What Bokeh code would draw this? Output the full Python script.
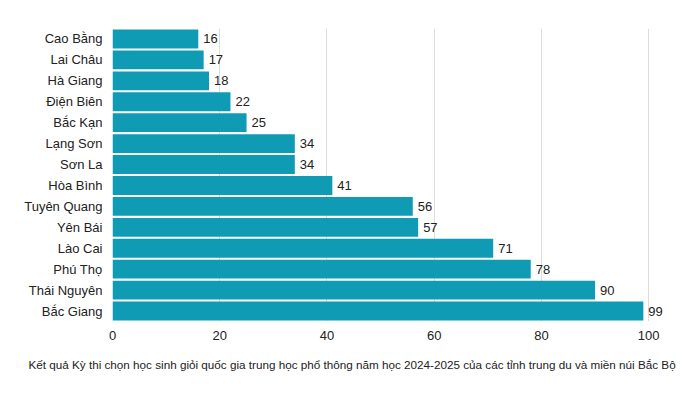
from bokeh.plotting import figure
from bokeh.models import ColumnDataSource, LabelSet, Title, Range1d, FactorRange, FixedTicker
from bokeh.core.properties import value
from bokeh.embed import file_html
from bokeh.resources import INLINE

provinces = ["Cao Bằng", "Lai Châu", "Hà Giang", "Điện Biên", "Bắc Kạn", "Lạng Sơn", "Sơn La",
             "Hòa Bình", "Tuyên Quang", "Yên Bái", "Lào Cai", "Phú Thọ", "Thái Nguyên", "Bắc Giang"]
scores = [16, 17, 18, 22, 25, 34, 34, 41, 56, 57, 71, 78, 90, 99]
x_ticks = [0, 20, 40, 60, 80, 100]
caption = "Kết quả Kỳ thi chọn học sinh giỏi quốc gia trung học phổ thông năm học 2024-2025 của các tỉnh trung du và miền núi Bắc Bộ"

FONT = "Liberation Sans"
BAR = "#0f9bb4"

src = ColumnDataSource(dict(p=provinces, v=scores, t=[str(s) for s in scores]))

p = figure(width=692, height=386, output_backend="svg", toolbar_location=None,
           y_range=FactorRange(factors=list(reversed(provinces)), range_padding=0),
           x_range=Range1d(0, 105),
           min_border_left=112, min_border_right=17, min_border_top=28, min_border_bottom=65)
p.outline_line_color = None
p.hbar(y="p", right="v", left=0, height=0.9, source=src, color=BAR, line_color=None)

labels = LabelSet(x="v", y="p", text="t", source=src, x_offset=5, text_baseline="middle",
                  text_font=value(FONT), text_font_size="13px", text_color="#222222")
p.add_layout(labels)

p.xaxis.ticker = FixedTicker(ticks=x_ticks)
p.xaxis.axis_line_color = None
p.xaxis.major_tick_line_color = None
p.xaxis.minor_tick_line_color = None
p.xaxis.major_label_standoff = 3
p.xaxis.major_label_text_font = FONT
p.xaxis.major_label_text_font_size = "13px"
p.xaxis.major_label_text_color = "#222222"

p.yaxis.axis_line_color = None
p.yaxis.major_tick_line_color = None
p.yaxis.major_label_standoff = 4
p.yaxis.major_label_text_font = FONT
p.yaxis.major_label_text_font_size = "13px"
p.yaxis.major_label_text_color = "#222222"

p.ygrid.grid_line_color = None
p.xgrid.grid_line_color = "#dddddd"

t = Title(text=caption, align="left", offset=-84, text_font=FONT, text_font_size="11.7px",
          text_font_style="normal", text_color="#222222", standoff=27)
p.add_layout(t, "below")

open("out.html", "w").write(file_html(p, INLINE))
